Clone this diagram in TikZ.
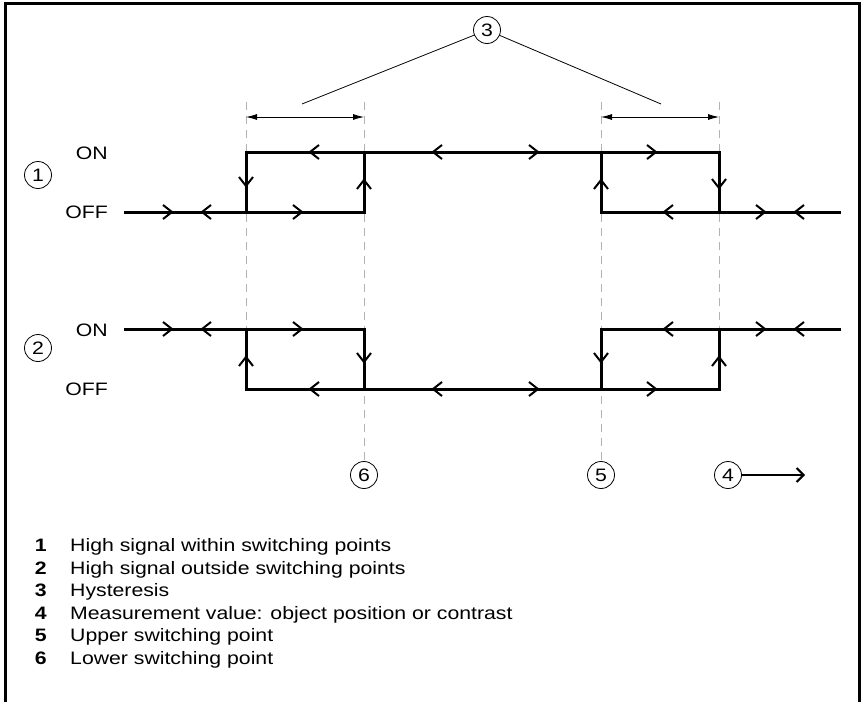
\documentclass[tikz,border=0pt]{standalone}
\usepackage{fontspec}
\setmainfont{Liberation Sans}[FakeStretch=1.18]
\usetikzlibrary{arrows.meta}

\tikzset{
    sig/.style={line width=3pt},
    guide/.style={gray!60, line width=0.8pt, dash pattern=on 8pt off 6pt},
    dim/.style={{Latex[length=11pt,width=6pt]}-{Latex[length=11pt,width=6pt]}, line width=0.8pt},
    circnum/.style={circle, draw, line width=0.8pt, minimum size=27pt, inner sep=0pt},
    chev/.pic={\draw[line width=2pt] (-9,-7) -- (0,0) -- (-9,7);}
}

\begin{document}
\begin{tikzpicture}[x=1pt,y=-1pt,font=\fontsize{18}{22}\selectfont]
            \useasboundingbox (0,0) rectangle (864,702);
            \draw[line width=3pt] (5,702) -- (5,3) -- (859,3) -- (859,702);
            \node[circnum] (c1) at (38,175) {1};
            \node[circnum] (c2) at (38,348) {2};
            \node[circnum] (c3) at (487,30) {3};
            \node[circnum] (c6) at (364,475) {6};
            \node[circnum] (c5) at (601,475) {5};
            \node[circnum] (c4) at (728,475) {4};
            \foreach \y/\t in {159/ON,218/OFF,336/ON,395/OFF} {
                \node[anchor=base east,inner sep=0pt] at (108,\y) {\t};
            }
            \draw[guide] (246,102) -- (246,389);
            \draw[guide] (719,102) -- (719,389);
            \draw[guide] (364,102) -- (c6);
            \draw[guide] (601,102) -- (c5);
            \draw[dim] (246,117) -- (364,117);
            \draw[dim] (601,117) -- (719,117);
            \coordinate (h1) at (302,104);
            \coordinate (h2) at (661,104);
            \draw[line width=0.8pt] (c3) -- (h1);
            \draw[line width=0.8pt] (c3) -- (h2);
            \draw[sig] (124,212) -- (364,212) -- (364,152);
            \draw[sig] (246,212) -- (246,152) -- (719,152) -- (719,212);
            \draw[sig] (601,152) -- (601,212) -- (841,212);
            \draw[sig] (124,329) -- (364,329) -- (364,389);
            \draw[sig] (246,329) -- (246,389) -- (719,389) -- (719,329);
            \draw[sig] (601,389) -- (601,329) -- (841,329);
            \foreach \x/\y/\a in {172/212/0,302/212/0,538/152/0,656/152/0,765/212/0,
                                  202/212/180,310/152/180,433/152/180,664/212/180,795/212/180,
                                  246/186/-90,719/188/-90,364/180/90,601/180/90,
                                  172/329/0,302/329/0,538/389/0,656/389/0,765/329/0,
                                  202/329/180,310/389/180,433/389/180,664/329/180,795/329/180,
                                  246/357/90,719/357/90,364/362/-90,601/362/-90} {
                \pic[rotate=\a] at (\x,\y) {chev};
            }
            \coordinate (m4) at (805,475);
            \draw[line width=2pt,-{Straight Barb[length=7pt,width=14pt]}] (c4) -- (m4);
            \foreach \n/\t [count=\i] in {1/High signal within switching points,
                                          2/High signal outside switching points,
                                          3/Hysteresis,
                                          4/Measurement value: object position or contrast,
                                          5/Upper switching point,
                                          6/Lower switching point} {
                \node[anchor=base east,inner sep=0pt,font=\fontsize{18}{22}\selectfont\bfseries] at (47,551.5+22.5*\i-22.5) {\n};
                \node[anchor=base west,inner sep=0pt] at (70,551.5+22.5*\i-22.5) {\t};
            }
        \end{tikzpicture}
\end{document}
